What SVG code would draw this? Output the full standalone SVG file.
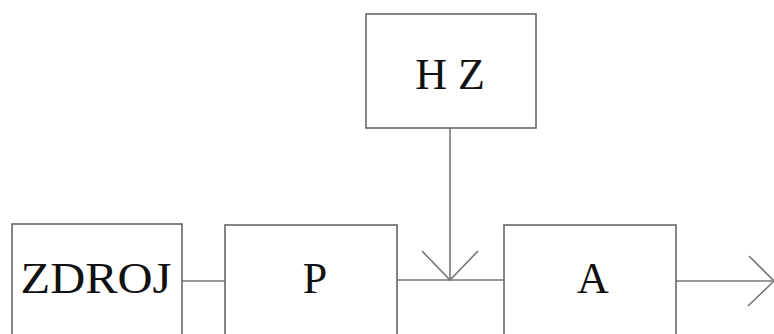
<svg xmlns="http://www.w3.org/2000/svg" width="774" height="334" viewBox="0 0 774 334">
<style>
.box{fill:#fff;stroke:#666;stroke-width:1.6}
.ln{fill:none;stroke:#777;stroke-width:1.6}
text{font-family:"Liberation Serif","Times New Roman",serif;font-size:44px;fill:#111;text-anchor:middle}
</style>
<rect width="774" height="334" fill="#fff"/>
<g id="connectors">
<line class="ln" x1="182" y1="281" x2="225" y2="281"/>
<line class="ln" x1="397" y1="280" x2="504" y2="280"/>
<line class="ln" x1="450" y1="128" x2="450" y2="280"/>
<polyline class="ln" points="422,251 450,280 478,251"/>
<line class="ln" x1="676" y1="281" x2="774" y2="281"/>
<polyline class="ln" points="749,256 774,281 748,306"/>
</g>
<g id="zdroj">
<rect class="box" x="12" y="224" width="170" height="130"/>
<text x="96" y="293" textLength="151" lengthAdjust="spacingAndGlyphs">ZDROJ</text>
</g>
<g id="p">
<rect class="box" x="225" y="225" width="172" height="130"/>
<text x="315" y="293">P</text>
</g>
<g id="hz">
<rect class="box" x="366" y="14" width="170" height="114"/>
<text x="450" y="89">H Z</text>
</g>
<g id="a">
<rect class="box" x="504" y="225" width="172" height="130"/>
<text x="593" y="293">A</text>
</g>
</svg>
